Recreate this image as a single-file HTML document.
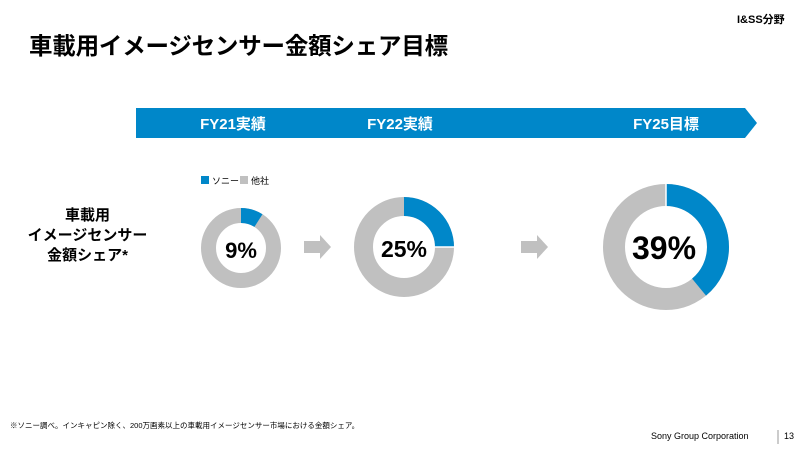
<!DOCTYPE html>
<html><head><meta charset="utf-8"><style>
body{margin:0;width:800px;height:450px;background:#fff;overflow:hidden;font-family:"Liberation Sans","Noto Sans CJK JP",sans-serif;}
.t{position:absolute;white-space:nowrap;font-weight:bold;color:#000;}
</style></head><body>
<div class="t" style="left:29px;top:27px;font-size:23.5px;letter-spacing:-0.2px;">車載用イメージセンサー金額シェア目標</div>
<div class="t" style="left:737px;top:11px;font-size:11px;">I&amp;SS分野</div>
<svg width="800" height="450" style="position:absolute;left:0;top:0">
<polygon points="136,108 745,108 757,123 745,138 136,138" fill="#0087c9"/>
<text x="233" y="129" font-size="15" font-weight="bold" fill="#fff" text-anchor="middle" font-family="Liberation Sans,Noto Sans CJK JP,sans-serif">FY21実績</text>
<text x="400" y="129" font-size="15" font-weight="bold" fill="#fff" text-anchor="middle" font-family="Liberation Sans,Noto Sans CJK JP,sans-serif">FY22実績</text>
<text x="666" y="129" font-size="15" font-weight="bold" fill="#fff" text-anchor="middle" font-family="Liberation Sans,Noto Sans CJK JP,sans-serif">FY25目標</text>
<rect x="201" y="176" width="8" height="8" fill="#0087c9"/>
<text x="212" y="184" font-size="9" font-family="Liberation Sans,Noto Sans CJK JP,sans-serif">ソニー</text>
<rect x="240" y="176" width="8" height="8" fill="#c0c0c0"/>
<text x="251" y="184" font-size="9" font-family="Liberation Sans,Noto Sans CJK JP,sans-serif">他社</text>
<g transform="translate(241,248)">
<circle r="32.5" fill="none" stroke="#c0c0c0" stroke-width="15"/>
<circle r="32.5" fill="none" stroke="#0087c9" stroke-width="15" stroke-dasharray="18.4 300" transform="rotate(-90)"/>
</g>
<g transform="translate(404,247)">
<circle r="40.5" fill="none" stroke="#c0c0c0" stroke-width="19"/>
<circle r="40.5" fill="none" stroke="#0087c9" stroke-width="19" stroke-dasharray="63.6 400" transform="rotate(-90)"/>
<line x1="31" y1="0" x2="50" y2="0" stroke="#fff" stroke-width="1.5"/>
</g>
<g transform="translate(666,247)">
<circle r="52" fill="none" stroke="#c0c0c0" stroke-width="22"/>
<circle r="52" fill="none" stroke="#0087c9" stroke-width="22" stroke-dasharray="127.4 500" transform="rotate(-90)"/>
<line x1="0" y1="-41" x2="0" y2="-63" stroke="#fff" stroke-width="1.5"/>
</g>
<text x="241" y="258" font-size="22" font-weight="bold" text-anchor="middle" font-family="Liberation Sans,sans-serif">9%</text>
<text x="404" y="257" font-size="23" font-weight="bold" text-anchor="middle" font-family="Liberation Sans,sans-serif">25%</text>
<text x="664" y="259" font-size="32" font-weight="bold" text-anchor="middle" font-family="Liberation Sans,sans-serif">39%</text>
<polygon points="304,241 320,241 320,235 331,247 320,259 320,253 304,253" fill="#c0c0c0"/>
<polygon points="521,241 537,241 537,235 548,247 537,259 537,253 521,253" fill="#c0c0c0"/>
<line x1="778" y1="430" x2="778" y2="444" stroke="#999" stroke-width="1"/>
</svg>
<div class="t" style="left:20px;top:206px;width:135px;text-align:center;font-size:15px;line-height:20px;">車載用<br>イメージセンサー<br>金額シェア*</div>
<div style="position:absolute;left:10px;top:420px;font-size:7.5px;white-space:nowrap;">※ソニー調べ。インキャピン除く、200万画素以上の車載用イメージセンサー市場における金額シェア。</div>
<div style="position:absolute;left:651px;top:431px;font-size:9px;white-space:nowrap;">Sony Group Corporation</div>
<div style="position:absolute;left:784px;top:431px;font-size:9px;">13</div>
</body></html>
